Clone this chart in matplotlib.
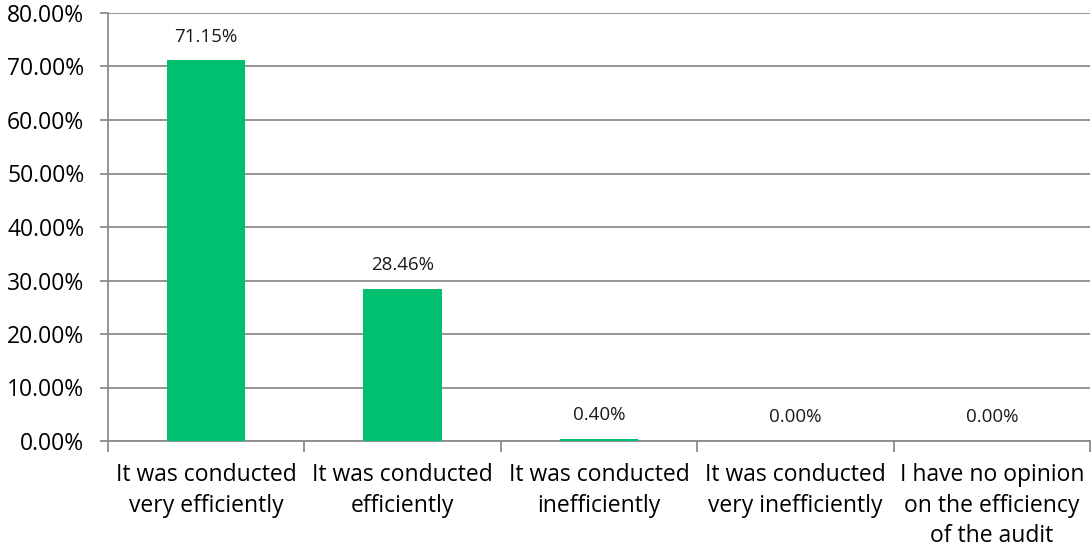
import matplotlib.pyplot as plt
import numpy as np
from matplotlib.ticker import FuncFormatter, FixedLocator

categories = [
    "It was conducted\nvery efficiently",
    "It was conducted\nefficiently",
    "It was conducted\ninefficiently",
    "It was conducted\nvery inefficiently",
    "I have no opinion\non the efficiency\nof the audit",
]
shares = [71.15, 28.46, 0.40, 0.00, 0.00]

GREEN = "#00BF6F"
GREY = "#8C8C8C"
plt.rcParams["font.family"] = ["Open Sans", "DejaVu Sans"]

fig = plt.figure(figsize=(10.91, 5.53), dpi=100)
ax = fig.add_axes([108 / 1091, 112 / 553, 982 / 1091, 428 / 553])

x = np.arange(len(categories))
ax.bar(x, shares, width=0.4, color=GREEN, zorder=3)
for xi, v in zip(x, shares):
    ax.annotate(f"{v:.2f}%", (xi, v), xytext=(0, 17), textcoords="offset points",
                ha="center", va="center", fontsize=13.5, color="#1a1a1a")

ax.set_xlim(-0.5, len(categories) - 0.5)
ax.set_ylim(0, 80)
ax.set_yticks(np.arange(0, 81, 10))
ax.yaxis.set_major_formatter(FuncFormatter(lambda v, _: f"{v:.2f}%"))
ax.grid(axis="y", color=GREY, linewidth=1.3, zorder=0)

# category labels centred, ticks on the category boundaries
ax.set_xticks(x)
ax.set_xticklabels(categories, fontsize=16.5, linespacing=1.35)
ax.tick_params(axis="x", length=0, pad=16)
ax.xaxis.set_minor_locator(FixedLocator(np.arange(-0.5, len(categories), 1.0)))
ax.tick_params(axis="x", which="minor", length=8, width=1.3, color=GREY, direction="out")
ax.tick_params(axis="y", length=6, width=1.3, color=GREY, labelsize=16.5, pad=11)

for side in ["top", "right"]:
    ax.spines[side].set_visible(False)
for side in ["left", "bottom"]:
    ax.spines[side].set_color(GREY)
    ax.spines[side].set_linewidth(1.3)

fig.savefig("out.png", dpi=100)
